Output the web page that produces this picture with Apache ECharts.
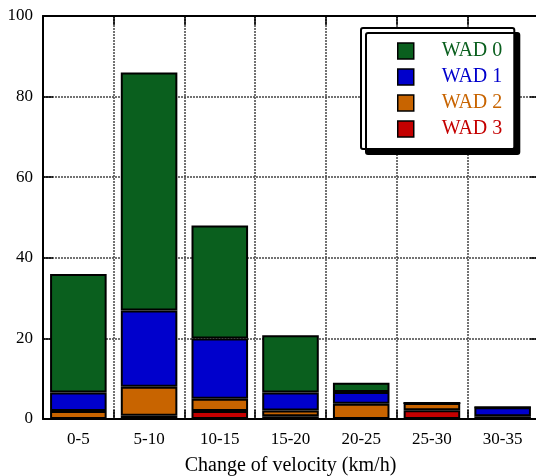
<!DOCTYPE html>
<html>
<head>
<meta charset="utf-8">
<script src="https://cdn.jsdelivr.net/npm/echarts@6/dist/echarts.min.js"></script>
<style>html,body{margin:0;padding:0;background:#fff}#c{width:536px;height:476px}</style>
</head>
<body>
<div id="c"></div>
<script>
var categories = ['0-5','5-10','10-15','15-20','20-25','25-30','30-35'];
var wad0 = [29.4, 59.1, 28.0, 14.2, 2.3, 0, 0];
var wad1 = [4.6, 18.9, 15.0, 4.5, 2.9, 0, 2.2];
var wad2 = [2.0, 7.2, 3.0, 1.4, 3.8, 1.8, 0.7];
var wad3 = [0, 0.8, 2.0, 0.7, 0, 2.2, 0];
var yTicks = [0, 20, 40, 60, 80, 100];
var seriesNames = ['WAD 0','WAD 1','WAD 2','WAD 3'];
var colors = ['#0a5f1e','#0000cc','#c86400','#c40000'];

var font = '"Liberation Serif", "Times New Roman", serif';
var chart = echarts.init(document.getElementById('c'));
function bar(name, data, color) {
  return {
    name: name, type: 'bar', stack: 'all', data: data, barWidth: '80%',
    itemStyle: { color: color, borderColor: '#000', borderWidth: 2 },
    emphasis: { disabled: true }
  };
}
var grid = { left: 43, top: 16, right: -2, bottom: 57, show: false, outerBoundsMode: 'none', containLabel: false };
chart.setOption({
  animation: false,
  grid: grid,
  legend: {
    data: seriesNames.map(function (n, i) { return { name: n, textStyle: { color: colors[i] } }; }),
    orient: 'vertical',
    left: 361, top: 28,
    icon: 'rect',
    itemWidth: 16, itemHeight: 16, itemGap: 6,
    padding: [13, 12, 10, 36],
    backgroundColor: '#fff',
    borderColor: '#000', borderWidth: 2, borderRadius: 2,
    shadowColor: '#000', shadowOffsetX: 5, shadowOffsetY: 5, shadowBlur: 0.01,
    itemStyle: { borderColor: '#000', borderWidth: 1.5 },
    textStyle: { fontFamily: font, fontSize: 20, lineHeight: 20, padding: [0, 0, 0, 23] },
    selectedMode: false
  },
  xAxis: [{
    type: 'category', data: categories, position: 'bottom',
    name: 'Change of velocity (km/h)', nameLocation: 'middle', nameGap: 37,
    nameTextStyle: { fontFamily: font, fontSize: 20, color: '#000' },
    axisLine: { show: true, onZero: false, lineStyle: { color: '#000', width: 2 } },
    axisTick: { show: true, inside: true, length: 9, lineStyle: { color: '#000', width: 1.5 } },
    axisLabel: { fontFamily: font, fontSize: 17, color: '#000', margin: 12 },
    splitLine: { show: true, lineStyle: { color: '#444', width: 1.5, type: [2, 1] } }
  }, {
    type: 'category', data: categories, position: 'top',
    axisLine: { show: true, onZero: false, lineStyle: { color: '#000', width: 2 } },
    axisTick: { show: true, inside: true, length: 9, lineStyle: { color: '#000', width: 1.5 } },
    axisLabel: { show: false }, splitLine: { show: false }
  }],
  yAxis: [{
    type: 'value', min: 0, max: 100, interval: 20, position: 'left',
    axisLine: { show: true, onZero: false, lineStyle: { color: '#000', width: 2 } },
    axisTick: { show: true, inside: true, length: 10, lineStyle: { color: '#000', width: 1.5 } },
    axisLabel: { fontFamily: font, fontSize: 17, color: '#000', margin: 10,
      formatter: function (v) { return yTicks.indexOf(v) >= 0 ? String(v) : ''; } },
    splitLine: { show: true, lineStyle: { color: '#444', width: 1.5, type: [2, 1] } }
  }, {
    type: 'value', min: 0, max: 100, interval: 20, position: 'right',
    axisLine: { show: true, onZero: false, lineStyle: { color: '#000', width: 2 } },
    axisTick: { show: true, inside: true, length: 8, lineStyle: { color: '#000', width: 1.5 } },
    axisLabel: { show: false }, splitLine: { show: false }
  }],
  series: [
    bar('WAD 3', wad3, colors[3]),
    bar('WAD 2', wad2, colors[2]),
    bar('WAD 1', wad1, colors[1]),
    bar('WAD 0', wad0, colors[0])
  ]
});
</script>
</body>
</html>
